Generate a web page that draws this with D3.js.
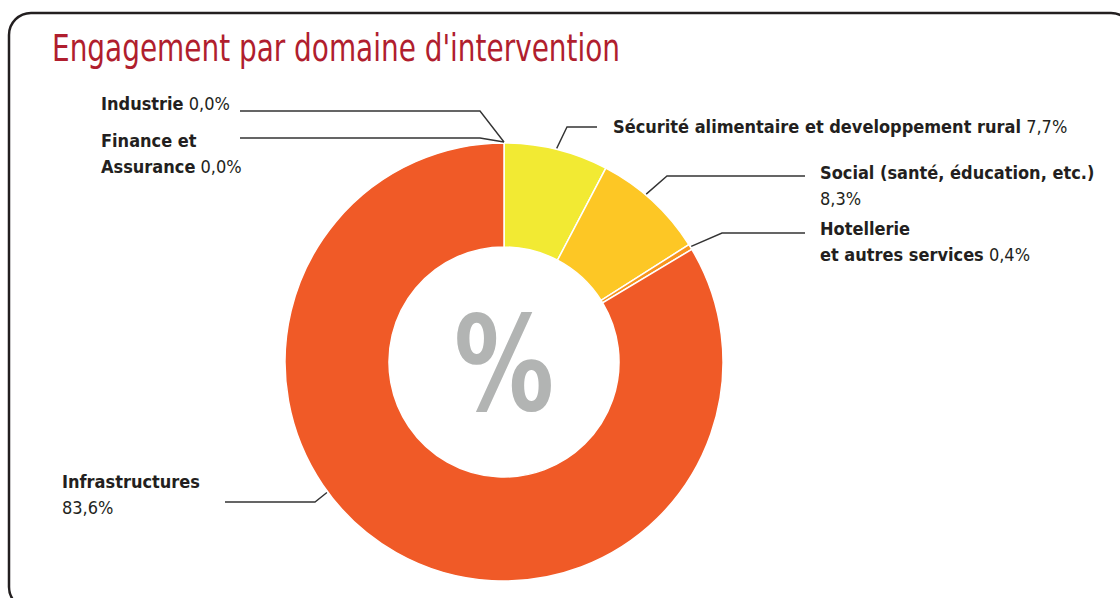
<!DOCTYPE html>
<html>
<head>
<meta charset="utf-8">
<script src="https://cdn.jsdelivr.net/npm/d3@7"></script>
<style>
  html, body { margin: 0; padding: 0; background: #fff; }
  svg { display: block; }
</style>
</head>
<body>
<svg id="chart" width="1120" height="598"></svg>
<script>
// ---- data ----
const categories = [
  "Sécurité alimentaire et developpement rural",
  "Social (santé, éducation, etc.)",
  "Hotellerie et autres services",
  "Infrastructures",
  "Finance et Assurance",
  "Industrie"
];
const values = [7.7, 8.3, 0.4, 83.6, 0.0, 0.0];
const colors = ["#F2EA33", "#FDC725", "#F7941E", "#F05A27", "#F05A27", "#F05A27"];
const title = "Engagement par domaine d'intervention";
// label text lines: [bold part, include value on this line]
const labelLines = [
  [["Sécurité alimentaire et developpement rural", true]],
  [["Social (santé, éducation, etc.)", false], ["", true]],
  [["Hotellerie", false], ["et autres services", true]],
  [["Infrastructures", false], ["", true]],
  [["Finance et", false], ["Assurance", true]],
  [["Industrie", true]]
];

// ---- layout ----
const W = 1120, H = 598;
const cx = 504, cy = 362, rOuter = 219, rInner = 115;
const FONT = "'Liberation Sans Narrow', 'DejaVu Sans Condensed', 'Liberation Sans', sans-serif";
const labelLayout = [
  { t: 0.5,  ex: 567, ey: 127, lx: 597, tx: 613, ty: 133 },
  { t: 0.42, ex: 667, ey: 176, lx: 805, tx: 820, ty: 179 },
  { t: 0.5,  ex: 722, ey: 233, lx: 805, tx: 820, ty: 235 },
  { t: 0.58, ex: 315, ey: 502, lx: 225, tx: 62,  ty: 488 },
  { t: 0.5,  ex: 480, ey: 138, lx: 240, tx: 101, ty: 147 },
  { t: 0.5,  ex: 480, ey: 111, lx: 240, tx: 101, ty: 110 }
];
const lineHeight = 25.5;

const svg = d3.select("#chart");

// frame
const fx = 9, fy = 13, fw = 1124, fh = 596, fr = 22;
svg.append("rect")
  .attr("x", fx).attr("y", fy).attr("width", fw).attr("height", fh)
  .attr("rx", fr).attr("ry", fr)
  .attr("fill", "none").attr("stroke", "#231F20").attr("stroke-width", 2.5);

// title
svg.append("text")
  .attr("x", 52).attr("y", 61)
  .attr("font-family", FONT).attr("font-size", 37)
  .attr("textLength", 568).attr("lengthAdjust", "spacingAndGlyphs")
  .attr("fill", "#B01E2E")
  .text(title);

// pie
const fmt = v => d3.format(".1f")(v).replace(".", ",") + "%";
const data = categories.map((c, i) => ({ name: c, value: values[i], i }));
const pie = d3.pie().sort(null).value(d => d.value);
const arcs = pie(data);
const arc = d3.arc().innerRadius(rInner).outerRadius(rOuter);

const g = svg.append("g").attr("transform", `translate(${cx},${cy})`);
g.selectAll("path.slice")
  .data(arcs.filter(a => a.data.value > 0))
  .join("path")
  .attr("class", "slice")
  .attr("d", arc)
  .attr("fill", d => colors[d.data.i])
  .attr("stroke", "#fff").attr("stroke-width", 1.5);

// center sign
svg.append("text")
  .attr("x", cx - 50).attr("y", cy + 48)
  .attr("font-family", FONT).attr("font-weight", "bold").attr("font-size", 132)
  .attr("textLength", 100).attr("lengthAdjust", "spacingAndGlyphs")
  .attr("fill", "#B2B4B3")
  .text("%");

// leader lines + labels
arcs.forEach((a, k) => {
  const L = labelLayout[k];
  const ang = a.startAngle + L.t * (a.endAngle - a.startAngle);
  const r = rOuter + 1;
  const ax = cx + r * Math.sin(ang), ay = cy - r * Math.cos(ang);
  svg.append("path")
    .attr("d", d3.line()([[ax, ay], [L.ex, L.ey], [L.lx, L.ey]]))
    .attr("fill", "none").attr("stroke", "#333").attr("stroke-width", 1.4);

  const txt = svg.append("text")
    .attr("font-family", FONT).attr("font-size", 18).attr("fill", "#231F20");
  labelLines[k].forEach((ln, j) => {
    const y = L.ty + j * lineHeight;
    if (ln[0]) {
      txt.append("tspan").attr("x", L.tx).attr("y", y)
        .attr("font-weight", "bold").text(ln[0]);
    }
    if (ln[1]) {
      const t = txt.append("tspan").attr("font-weight", "normal")
        .text((ln[0] ? " " : "") + fmt(a.data.value));
      if (!ln[0]) t.attr("x", L.tx).attr("y", y);
    }
  });
});
</script>
</body>
</html>
